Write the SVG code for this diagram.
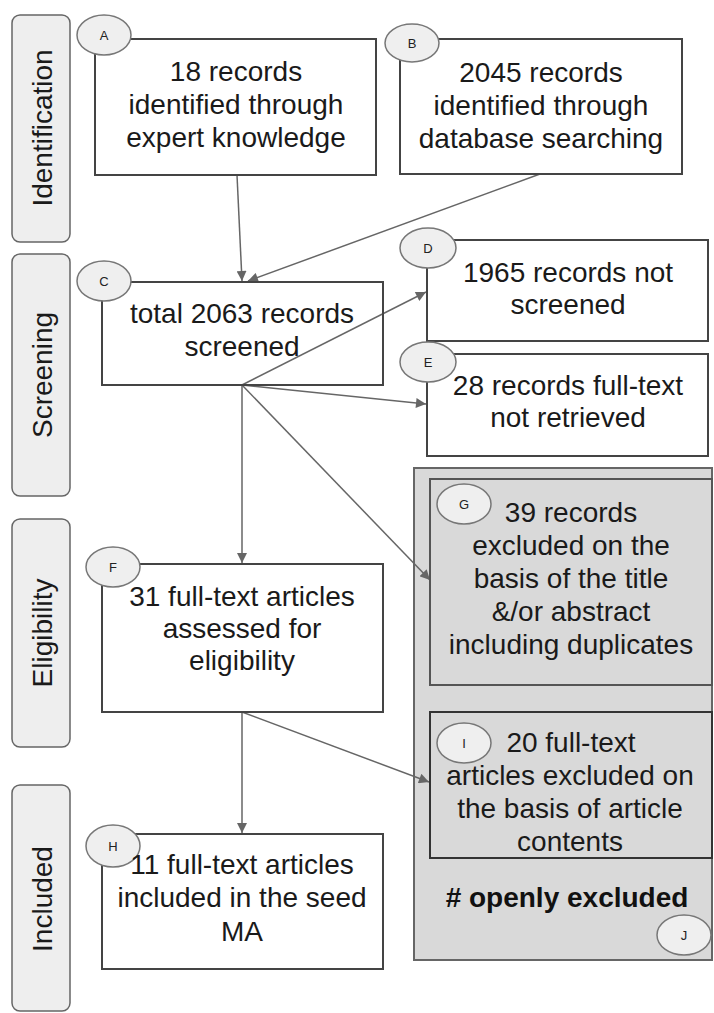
<svg xmlns="http://www.w3.org/2000/svg" width="714" height="1013" viewBox="0 0 714 1013">
<defs>
<style>
.lane{fill:#eeeeee;stroke:#666666;stroke-width:1.5}
.box{fill:#ffffff;stroke:#444444;stroke-width:2}
.gbox{fill:#d9d9d9;stroke:#555555;stroke-width:2}
.outer{fill:#d9d9d9;stroke:#666666;stroke-width:2}
.tag{fill:#efefef;stroke:#777777;stroke-width:1.5}
.t{font-family:"Liberation Sans",Arial,sans-serif;font-size:28px;fill:#1a1a1a;text-anchor:middle}
.tb{font-family:"Liberation Sans",Arial,sans-serif;font-size:28px;font-weight:bold;fill:#111111;text-anchor:middle}
.tl{font-family:"Liberation Sans",Arial,sans-serif;font-size:13px;fill:#222222;text-anchor:middle}
.conn{stroke:#666666;stroke-width:1.5;fill:none;marker-end:url(#arr)}
</style>
<marker id="arr" viewBox="0 0 10 10" refX="10" refY="5" markerWidth="11" markerHeight="10" orient="auto" markerUnits="userSpaceOnUse">
<path d="M0,0 L10,5 L0,10 z" fill="#666666"/>
</marker>
</defs>

<g id="lane-identification">
<rect class="lane" x="12" y="15" width="58" height="227" rx="8"/>
<text class="t" transform="translate(52,128) rotate(-90)">Identification</text>
</g>
<g id="lane-screening">
<rect class="lane" x="12" y="254" width="58" height="242" rx="8"/>
<text class="t" transform="translate(52,375) rotate(-90)">Screening</text>
</g>
<g id="lane-eligibility">
<rect class="lane" x="12" y="519" width="58" height="228" rx="8"/>
<text class="t" transform="translate(52,633) rotate(-90)">Eligibility</text>
</g>
<g id="lane-included">
<rect class="lane" x="12" y="785" width="58" height="226" rx="8"/>
<text class="t" transform="translate(52,899) rotate(-90)">Included</text>
</g>

<g id="node-J">
<rect class="outer" x="414" y="468" width="298" height="492"/>
<text class="tb" x="567" y="907"># openly excluded</text>
<ellipse class="tag" cx="684" cy="935" rx="27" ry="20"/>
<text class="tl" x="684" y="940">J</text>
</g>

<g id="connectors">
<line class="conn" x1="237" y1="175" x2="242" y2="281"/>
<line class="conn" x1="540" y1="174" x2="248" y2="281"/>
<line class="conn" x1="242" y1="385" x2="426" y2="292"/>
<line class="conn" x1="242" y1="385" x2="426" y2="404"/>
<line class="conn" x1="242" y1="385" x2="430" y2="580"/>
<line class="conn" x1="242" y1="385" x2="242" y2="563"/>
<line class="conn" x1="242" y1="712" x2="242" y2="833"/>
<line class="conn" x1="242" y1="712" x2="429" y2="782"/>
</g>

<g id="node-A">
<rect class="box" x="95" y="39" width="281" height="136"/>
<ellipse class="tag" cx="104" cy="35" rx="27" ry="20"/>
<text class="tl" x="104" y="40">A</text>
<text class="t" x="236" y="81">18 records</text>
<text class="t" x="236" y="114">identified through</text>
<text class="t" x="236" y="147">expert knowledge</text>
</g>

<g id="node-B">
<rect class="box" x="400" y="39" width="282" height="135"/>
<ellipse class="tag" cx="412" cy="43" rx="27" ry="19"/>
<text class="tl" x="412" y="48">B</text>
<text class="t" x="541" y="82">2045 records</text>
<text class="t" x="541" y="115">identified through</text>
<text class="t" x="541" y="148">database searching</text>
</g>

<g id="node-C">
<rect class="box" x="102" y="282" width="281" height="103" fill-opacity="0"/>
<ellipse class="tag" cx="104" cy="281" rx="27" ry="20"/>
<text class="tl" x="104" y="286">C</text>
<text class="t" x="242" y="323">total 2063 records</text>
<text class="t" x="242" y="356">screened</text>
</g>

<g id="node-D">
<rect class="box" x="427" y="240" width="281" height="101"/>
<ellipse class="tag" cx="428" cy="248" rx="28" ry="20"/>
<text class="tl" x="428" y="253">D</text>
<text class="t" x="568" y="282">1965 records not</text>
<text class="t" x="568" y="314">screened</text>
</g>

<g id="node-E">
<rect class="box" x="427" y="354" width="281" height="102"/>
<ellipse class="tag" cx="428" cy="362" rx="28" ry="20"/>
<text class="tl" x="428" y="367">E</text>
<text class="t" x="568" y="395">28 records full-text</text>
<text class="t" x="568" y="427">not retrieved</text>
</g>

<g id="node-G">
<rect class="gbox" x="430" y="479" width="282" height="206"/>
<ellipse class="tag" cx="464" cy="504" rx="27" ry="20"/>
<text class="tl" x="464" y="509">G</text>
<text class="t" x="571" y="522">39 records</text>
<text class="t" x="571" y="555">excluded on the</text>
<text class="t" x="571" y="588">basis of the title</text>
<text class="t" x="571" y="621">&amp;/or abstract</text>
<text class="t" x="571" y="654">including duplicates</text>
</g>

<g id="node-I">
<rect class="gbox" x="430" y="712" width="282" height="146" style="stroke:#333333"/>
<ellipse class="tag" cx="464" cy="743" rx="27" ry="20"/>
<text class="tl" x="464" y="748">I</text>
<text class="t" x="571" y="752">20 full-text</text>
<text class="t" x="570" y="785">articles excluded on</text>
<text class="t" x="570" y="818">the basis of article</text>
<text class="t" x="570" y="851">contents</text>
</g>

<g id="node-F">
<rect class="box" x="102" y="564" width="281" height="148"/>
<ellipse class="tag" cx="113" cy="567" rx="27" ry="20"/>
<text class="tl" x="113" y="572">F</text>
<text class="t" x="242" y="606">31 full-text articles</text>
<text class="t" x="242" y="638">assessed for</text>
<text class="t" x="242" y="670">eligibility</text>
</g>

<g id="node-H">
<rect class="box" x="102" y="834" width="281" height="135"/>
<ellipse class="tag" cx="113" cy="846" rx="27" ry="21"/>
<text class="tl" x="113" y="851">H</text>
<text class="t" x="242" y="874">11 full-text articles</text>
<text class="t" x="242" y="907">included in the seed</text>
<text class="t" x="242" y="941">MA</text>
</g>
</svg>
